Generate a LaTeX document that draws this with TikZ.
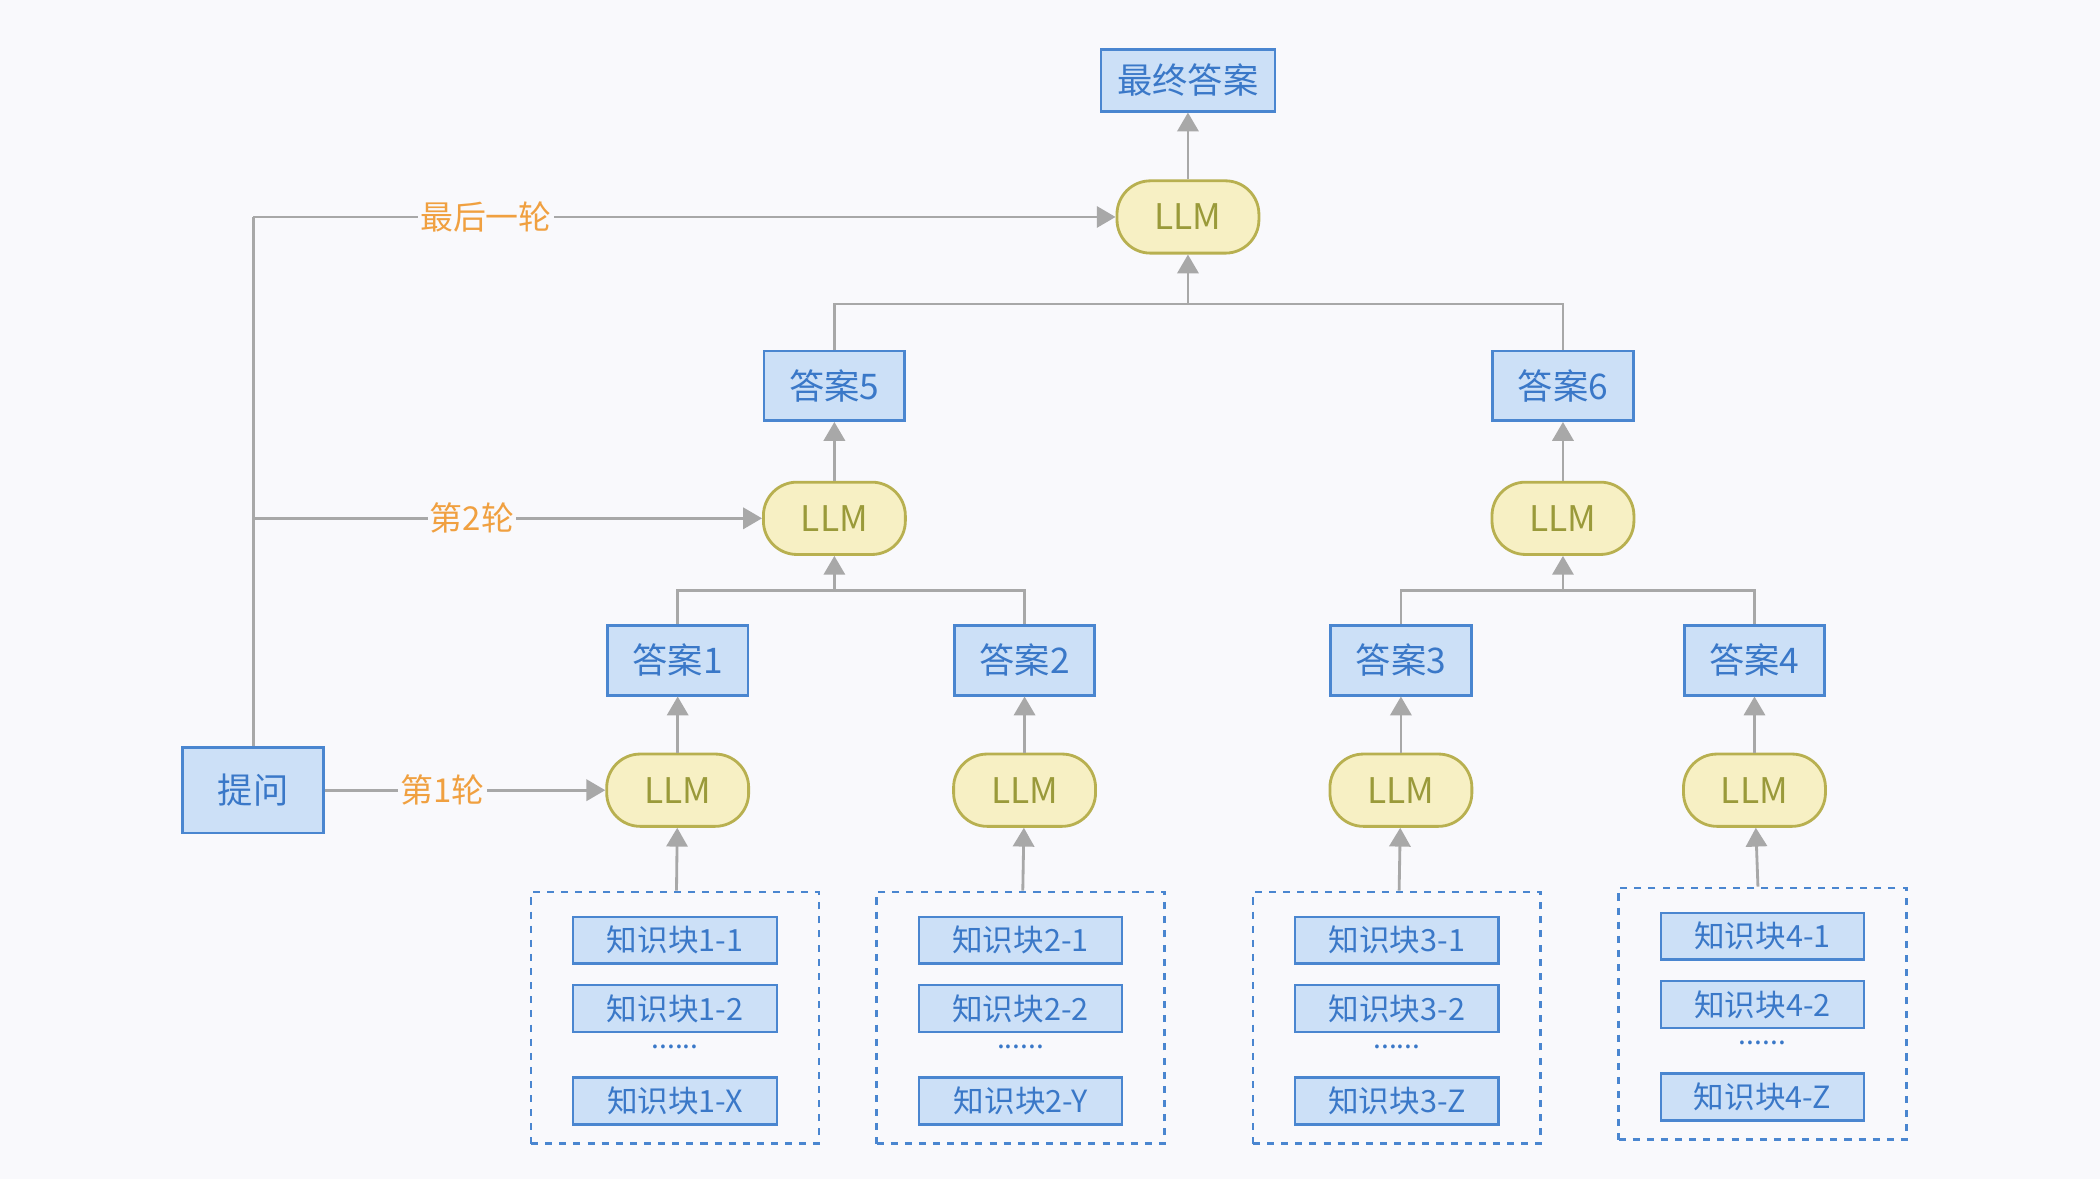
\documentclass[tikz,border=0pt]{standalone}
\usepackage{fontspec}
\setmainfont{Noto Sans CJK SC}
\usetikzlibrary{arrows.meta}
\definecolor{ansfill}{HTML}{CCE0F7}
\definecolor{ansdraw}{HTML}{4A86D0}
\definecolor{anstext}{HTML}{3A78C8}
\definecolor{llmfill}{HTML}{F7F0C4}
\definecolor{llmdraw}{HTML}{B8B050}
\definecolor{llmtext}{HTML}{9A9A3A}
\definecolor{linegray}{HTML}{A8A8A8}
\definecolor{roundtxt}{HTML}{F0A040}
\definecolor{bgcol}{HTML}{F9F9FC}
\tikzset{
    box/.style={draw=ansdraw,fill=ansfill,text=anstext,line width=1.2pt,minimum width=2.1cm,minimum height=1.04cm,font=\fontsize{15}{15}\selectfont},
    llm/.style={draw=llmdraw,fill=llmfill,text=llmtext,line width=1.2pt,rounded corners=0.5cm,minimum width=2.12cm,minimum height=1.08cm,font=\fontsize{15}{15}\selectfont},
    chip/.style={draw=ansdraw,fill=ansfill,text=anstext,line width=1pt,minimum width=3.04cm,minimum height=0.7cm,inner sep=0pt,font=\fontsize{13}{13}\selectfont},
    group/.style={draw=ansdraw,dashed,line width=1.2pt,minimum width=4.3cm,minimum height=3.76cm},
    con/.style={draw=linegray,line width=1.2pt},
    arr/.style={con,-{Triangle[length=8pt,width=9pt]}},
    rnd/.style={text=roundtxt,fill=bgcol,font=\fontsize{14}{14}\selectfont,inner sep=1pt},
    dots/.style={text=anstext,font=\fontsize{12}{12}\selectfont,inner sep=0pt}
}
\begin{document}
\begin{tikzpicture}[x=0.02cm,y=-0.02cm]
    %Bakgrunn
        \fill[bgcol] (0,0) rectangle (1568,880);
        \useasboundingbox (0,0) rectangle (1568,880);

    %Svar og LLM
        \node[box,minimum width=2.6cm,minimum height=0.92cm] (final) at (887,60) {最终答案};
        \node[llm] (llmtop) at (887,162) {LLM};
        \node[box] (ans5) at (623,288) {答案5};
        \node[box] (ans6) at (1167,288) {答案6};
        \node[llm] (llm5) at (623,387) {LLM};
        \node[llm] (llm6) at (1167,387) {LLM};
        \foreach \i/\x in {1/506,2/765,3/1046,4/1310}{
            \node[box] (ans\i) at (\x,493) {答案\i};
            \node[llm] (llm\i) at (\x,590) {LLM};
        }
        \node[box,minimum height=1.28cm] (ask) at (189,590) {提问};

    %Kunnskapsblokker
        \foreach \i/\x/\y/\e in {1/504/760/X,2/762/760/Y,3/1043/760/Z,4/1316/757/Z}{
            \node[group] (grp\i) at (\x,\y) {};
            \node[chip] (k\i a) at (\x,\y-58) {知识块\i-1};
            \node[chip] (k\i b) at (\x,\y-7) {知识块\i-2};
            \node[dots] (k\i d) at (\x,\y+22) {......};
            \node[chip] (k\i c) at (\x,\y+62) {知识块\i-\e};
            \draw[arr] (grp\i) -- (llm\i);
            \draw[arr] (llm\i) -- (ans\i);
        }

    %Sammenslaing
        \coordinate (m12) at (623,441);
        \coordinate (m34) at (1167,441);
        \coordinate (m56) at (887,227);
        \draw[con] (ans1.north) |- (m12) -| (ans2.north);
        \draw[con] (ans3.north) |- (m34) -| (ans4.north);
        \draw[con] (ans5.north) |- (m56) -| (ans6.north);
        \draw[arr] (m12) -- (llm5);
        \draw[arr] (m34) -- (llm6);
        \draw[arr] (m56) -- (llmtop);
        \draw[arr] (llm5) -- (ans5);
        \draw[arr] (llm6) -- (ans6);
        \draw[arr] (llmtop) -- (final);

    %Runder
        \coordinate (c2) at (189,387);
        \coordinate (c3) at (189,162);
        \draw[con] (ask.north) -- (c3);
        \draw[arr] (ask) -- node[rnd,pos=0.42] {第1轮} (llm1);
        \draw[arr] (c2) -- node[rnd,pos=0.43] {第2轮} (llm5);
        \draw[arr] (c3) -- node[rnd,pos=0.27] {最后一轮} (llmtop);
\end{tikzpicture}
\end{document}
